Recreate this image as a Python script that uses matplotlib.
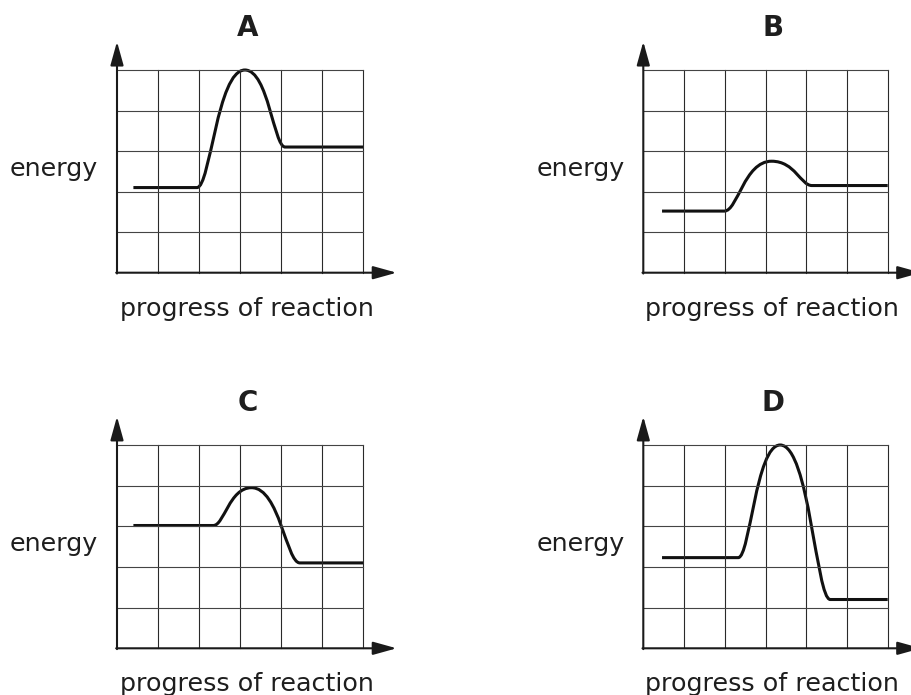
#Four energy profile diagrams (A-D) drawn on a grid.
import matplotlib
matplotlib.use('Agg')
import matplotlib.pyplot as plt
from matplotlib.path import Path
from matplotlib.patches import PathPatch

# energy levels (grid is 6 x 5 squares)
labels = ['A', 'B', 'C', 'D']
start_x = [0.40, 0.46, 0.40, 0.46]
reactant_level = [2.1, 1.52, 3.02, 2.23]
peak_level = [5.0, 2.75, 3.95, 5.0]
product_level = [3.1, 2.15, 2.1, 1.2]
rise_x = [1.95, 1.99, 2.35, 2.33]
peak_x = [3.12, 3.15, 3.28, 3.36]
fall_x = [4.10, 4.14, 4.46, 4.59]

W, H = 911, 695
# grid box of each panel in pixels: left, top, width, height
boxes = [(117, 70, 246, 202.7), (643.3, 70, 244.4, 202.7),
         (117, 445, 246, 203.3), (643.3, 445, 244.4, 203.3)]

fig = plt.figure(figsize=(W / 100, H / 100), dpi=100)

def draw_panel(ax, i):
    ax.set_xlim(0, 6)
    ax.set_ylim(0, 5)
    ax.axis('off')

    # grid
    for gx in range(1, 7):
        ax.plot([gx, gx], [0, 5], color='#2a2a2a', lw=0.8, clip_on=False)
    for gy in range(1, 6):
        ax.plot([0, 6], [gy, gy], color='#444444', lw=0.8, clip_on=False)

    # axes with arrow heads
    arrow = dict(arrowstyle='-|>,head_length=0.72,head_width=0.2', color='#1a1a1a',
                 lw=1.5, mutation_scale=20, shrinkA=0, shrinkB=0)
    ax.annotate('', xy=(0, 5.70), xytext=(0, -0.02), arrowprops=arrow, annotation_clip=False)
    ax.annotate('', xy=(6.82, 0), xytext=(-0.02, 0), arrowprops=arrow, annotation_clip=False)

    # energy curve
    r, p, e = reactant_level[i], peak_level[i], product_level[i]
    rx, px, fx = rise_x[i], peak_x[i], fall_x[i]
    dr, df = px - rx, fx - px
    verts = [(start_x[i], r), (rx, r),
             (rx + 0.28 * dr, r), (px - 0.58 * dr, p), (px, p),
             (px + 0.58 * df, p), (fx - 0.28 * df, e), (fx, e),
             (6, e)]
    codes = [Path.MOVETO, Path.LINETO,
             Path.CURVE4, Path.CURVE4, Path.CURVE4,
             Path.CURVE4, Path.CURVE4, Path.CURVE4,
             Path.LINETO]
    ax.add_patch(PathPatch(Path(verts, codes), facecolor='none', edgecolor='#111111',
                           lw=2.2, capstyle='butt', clip_on=False))

    # labels
    ax.text(-0.46, 2.39, 'energy', ha='right', va='baseline', fontsize=18.3,
            color='#1e1e1e', clip_on=False)
    ax.text(3.16, -1.06, 'progress of reaction', ha='center', va='baseline',
            fontsize=18.3, color='#1e1e1e', clip_on=False)
    ax.text(3.18, 5.83, labels[i], ha='center', va='baseline', fontsize=20,
            fontweight='bold', color='#1e1e1e', clip_on=False)

for i, (left, top, w, h) in enumerate(boxes):
    ax = fig.add_axes([left / W, 1 - (top + h) / H, w / W, h / H])
    draw_panel(ax, i)

fig.savefig('out.png', dpi=100)
